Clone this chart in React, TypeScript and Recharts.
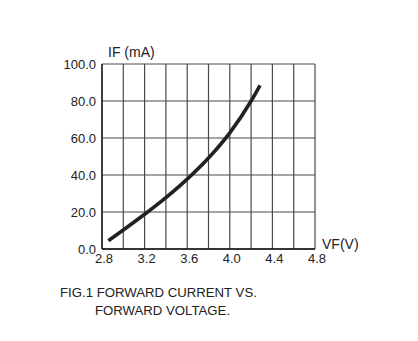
import React from "react";
import { LineChart, Line, XAxis, YAxis, CartesianGrid } from "recharts";

const voltage = [2.86, 3.0, 3.2, 3.4, 3.6, 3.8, 4.0, 4.2, 4.284];
const current = [4.5, 10.3, 18.8, 27.8, 37.8, 49.2, 62.8, 80, 88.5];
const xTicks = [2.8, 3.0, 3.2, 3.4, 3.6, 3.8, 4.0, 4.2, 4.4, 4.6, 4.8];
const xLabelTicks = ["2.8", "3.2", "3.6", "4.0", "4.4", "4.8"];
const yTicks = [0, 20, 40, 60, 80, 100];
const yTitle = "IF (mA)";
const xTitle = "VF(V)";
const caption1 = "FIG.1 FORWARD CURRENT VS.";
const caption2 = "FORWARD VOLTAGE.";

const data = voltage.map((v, i) => ({ v, i: current[i] }));
const FONT = '"Liberation Sans", Arial, Helvetica, sans-serif';

export default function App() {
  return (
    <div style={{ position: "absolute", left: 0, top: 0, width: 418, height: 341, background: "#fff", fontFamily: FONT }}>
      <LineChart width={418} height={341} data={data} margin={{ top: 64, right: 103, bottom: 62, left: 42 }}>
        <CartesianGrid stroke="#4a4a4a" strokeWidth={1.2} />
        <XAxis
          dataKey="v"
          type="number"
          domain={[2.8, 4.8]}
          ticks={xTicks}
          interval={0}
          height={30}
          tickSize={0}
          tickMargin={5}
          axisLine={{ stroke: "#111", strokeWidth: 1.3 }}
          tick={{ fill: "#222", fontSize: 13, fontFamily: FONT, dx: 2 }}
          tickFormatter={(t: number) => (xLabelTicks.includes(t.toFixed(1)) ? t.toFixed(1) : "")}
          label={{
            content: (p: any) => (
              <text x={p.viewBox.x + p.viewBox.width + 7} y={p.viewBox.y} fontSize={14} fill="#222" fontFamily={FONT}>
                {xTitle}
              </text>
            ),
          }}
        />
        <YAxis
          type="number"
          domain={[0, 100]}
          ticks={yTicks}
          width={60}
          tickSize={0}
          tickMargin={6}
          axisLine={{ stroke: "#111", strokeWidth: 1.3 }}
          tick={{ fill: "#222", fontSize: 13, fontFamily: FONT }}
          tickFormatter={(t: number) => t.toFixed(1)}
          label={{
            content: (p: any) => (
              <text x={p.viewBox.x + p.viewBox.width + 6} y={p.viewBox.y - 7} fontSize={14} fill="#222" fontFamily={FONT}>
                {yTitle}
              </text>
            ),
          }}
        />
        <Line
          type="monotone"
          dataKey="i"
          stroke="#222"
          strokeWidth={3.6}
          dot={false}
          isAnimationActive={false}
        />
      </LineChart>
      <div style={{ position: "absolute", left: 60, top: 285, fontSize: 13.2, color: "#222", whiteSpace: "nowrap", lineHeight: "16px" }}>
        {caption1}
      </div>
      <div style={{ position: "absolute", left: 95, top: 303, fontSize: 13.2, color: "#222", whiteSpace: "nowrap", lineHeight: "16px" }}>
        {caption2}
      </div>
    </div>
  );
}
